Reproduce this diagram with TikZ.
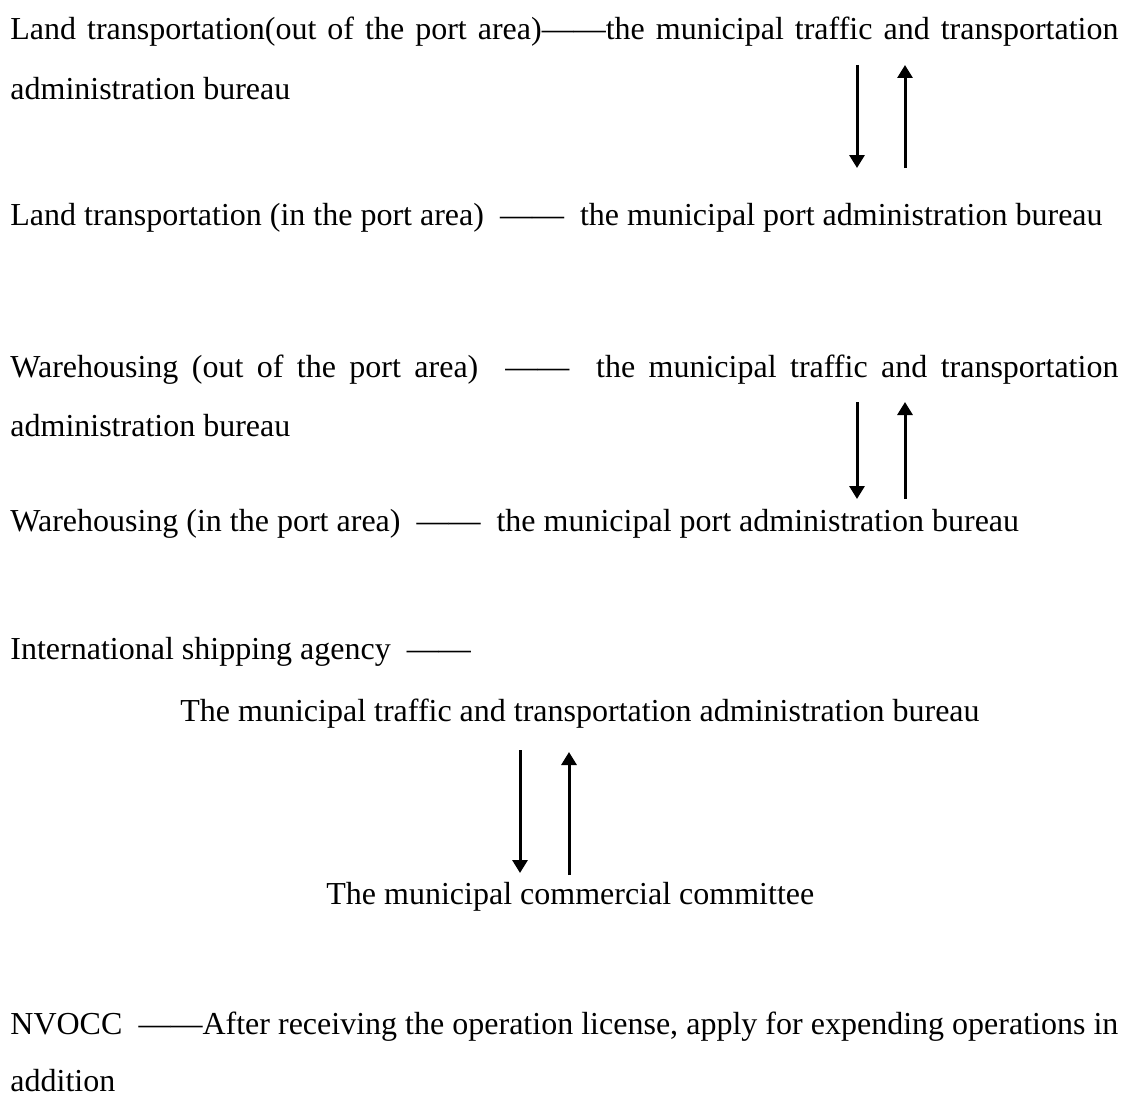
\documentclass[tikz,border=0pt]{standalone}
\usepackage{fontspec}
\setmainfont{Liberation Serif}
\usetikzlibrary{arrows.meta}

\newcommand{\fullline}[1]{\makebox[554pt][s]{#1}}

\begin{document}
\begin{tikzpicture}[x=0.5pt,y=-0.5pt,
  every node/.style={font=\fontsize{16pt}{19pt}\selectfont},
  txt/.style={anchor=base west,inner sep=0pt},
  flow/.style={line width=1.5pt,-{Triangle[length=6.5pt,width=7.5pt]}}]
  \useasboundingbox (0,0) rectangle (1139,1097);

  % land transportation
  \node[txt] (landout)  at (10,40)  {\fullline{Land transportation(out of the port area)——the municipal traffic and transportation}};
  \node[txt] (landoutb) at (10,99)  {administration bureau};
  \node[txt] (landin)   at (10,225) {Land transportation (in the port area)\ \ ——\ \ the municipal port administration bureau};

  % warehousing
  \node[txt] (wareout)  at (10,377) {\fullline{Warehousing (out of the port area)\ \ ——\ \ the municipal traffic and transportation}};
  \node[txt] (wareoutb) at (10,436) {administration bureau};
  \node[txt] (warein)   at (10,531) {Warehousing (in the port area)\ \ ——\ \ the municipal port administration bureau};

  % shipping agency
  \node[txt] (agency)   at (10,659)  {International shipping agency\ \ ——};
  \node[txt] (agtraf)   at (180,721) {The municipal traffic and transportation administration bureau};
  \node[txt] (agcomm)   at (326,904) {The municipal commercial committee};

  % nvocc
  \node[txt] (nvocc)    at (10,1034) {\fullline{NVOCC\ \ ——After receiving the operation license, apply for expending operations in}};
  \node[txt] (nvoccb)   at (10,1091) {addition};

  \coordinate (d1s) at (857,65);  \coordinate (d1e) at (857,168);
  \coordinate (u1s) at (905,168); \coordinate (u1e) at (905,65);
  \coordinate (d2s) at (857,402); \coordinate (d2e) at (857,499);
  \coordinate (u2s) at (905,499); \coordinate (u2e) at (905,402);
  \coordinate (d3s) at (520,750); \coordinate (d3e) at (520,873);
  \coordinate (u3s) at (569,875); \coordinate (u3e) at (569,752);

  \draw[flow] (d1s) -- (d1e);
  \draw[flow] (u1s) -- (u1e);
  \draw[flow] (d2s) -- (d2e);
  \draw[flow] (u2s) -- (u2e);
  \draw[flow] (d3s) -- (d3e);
  \draw[flow] (u3s) -- (u3e);
\end{tikzpicture}
\end{document}
